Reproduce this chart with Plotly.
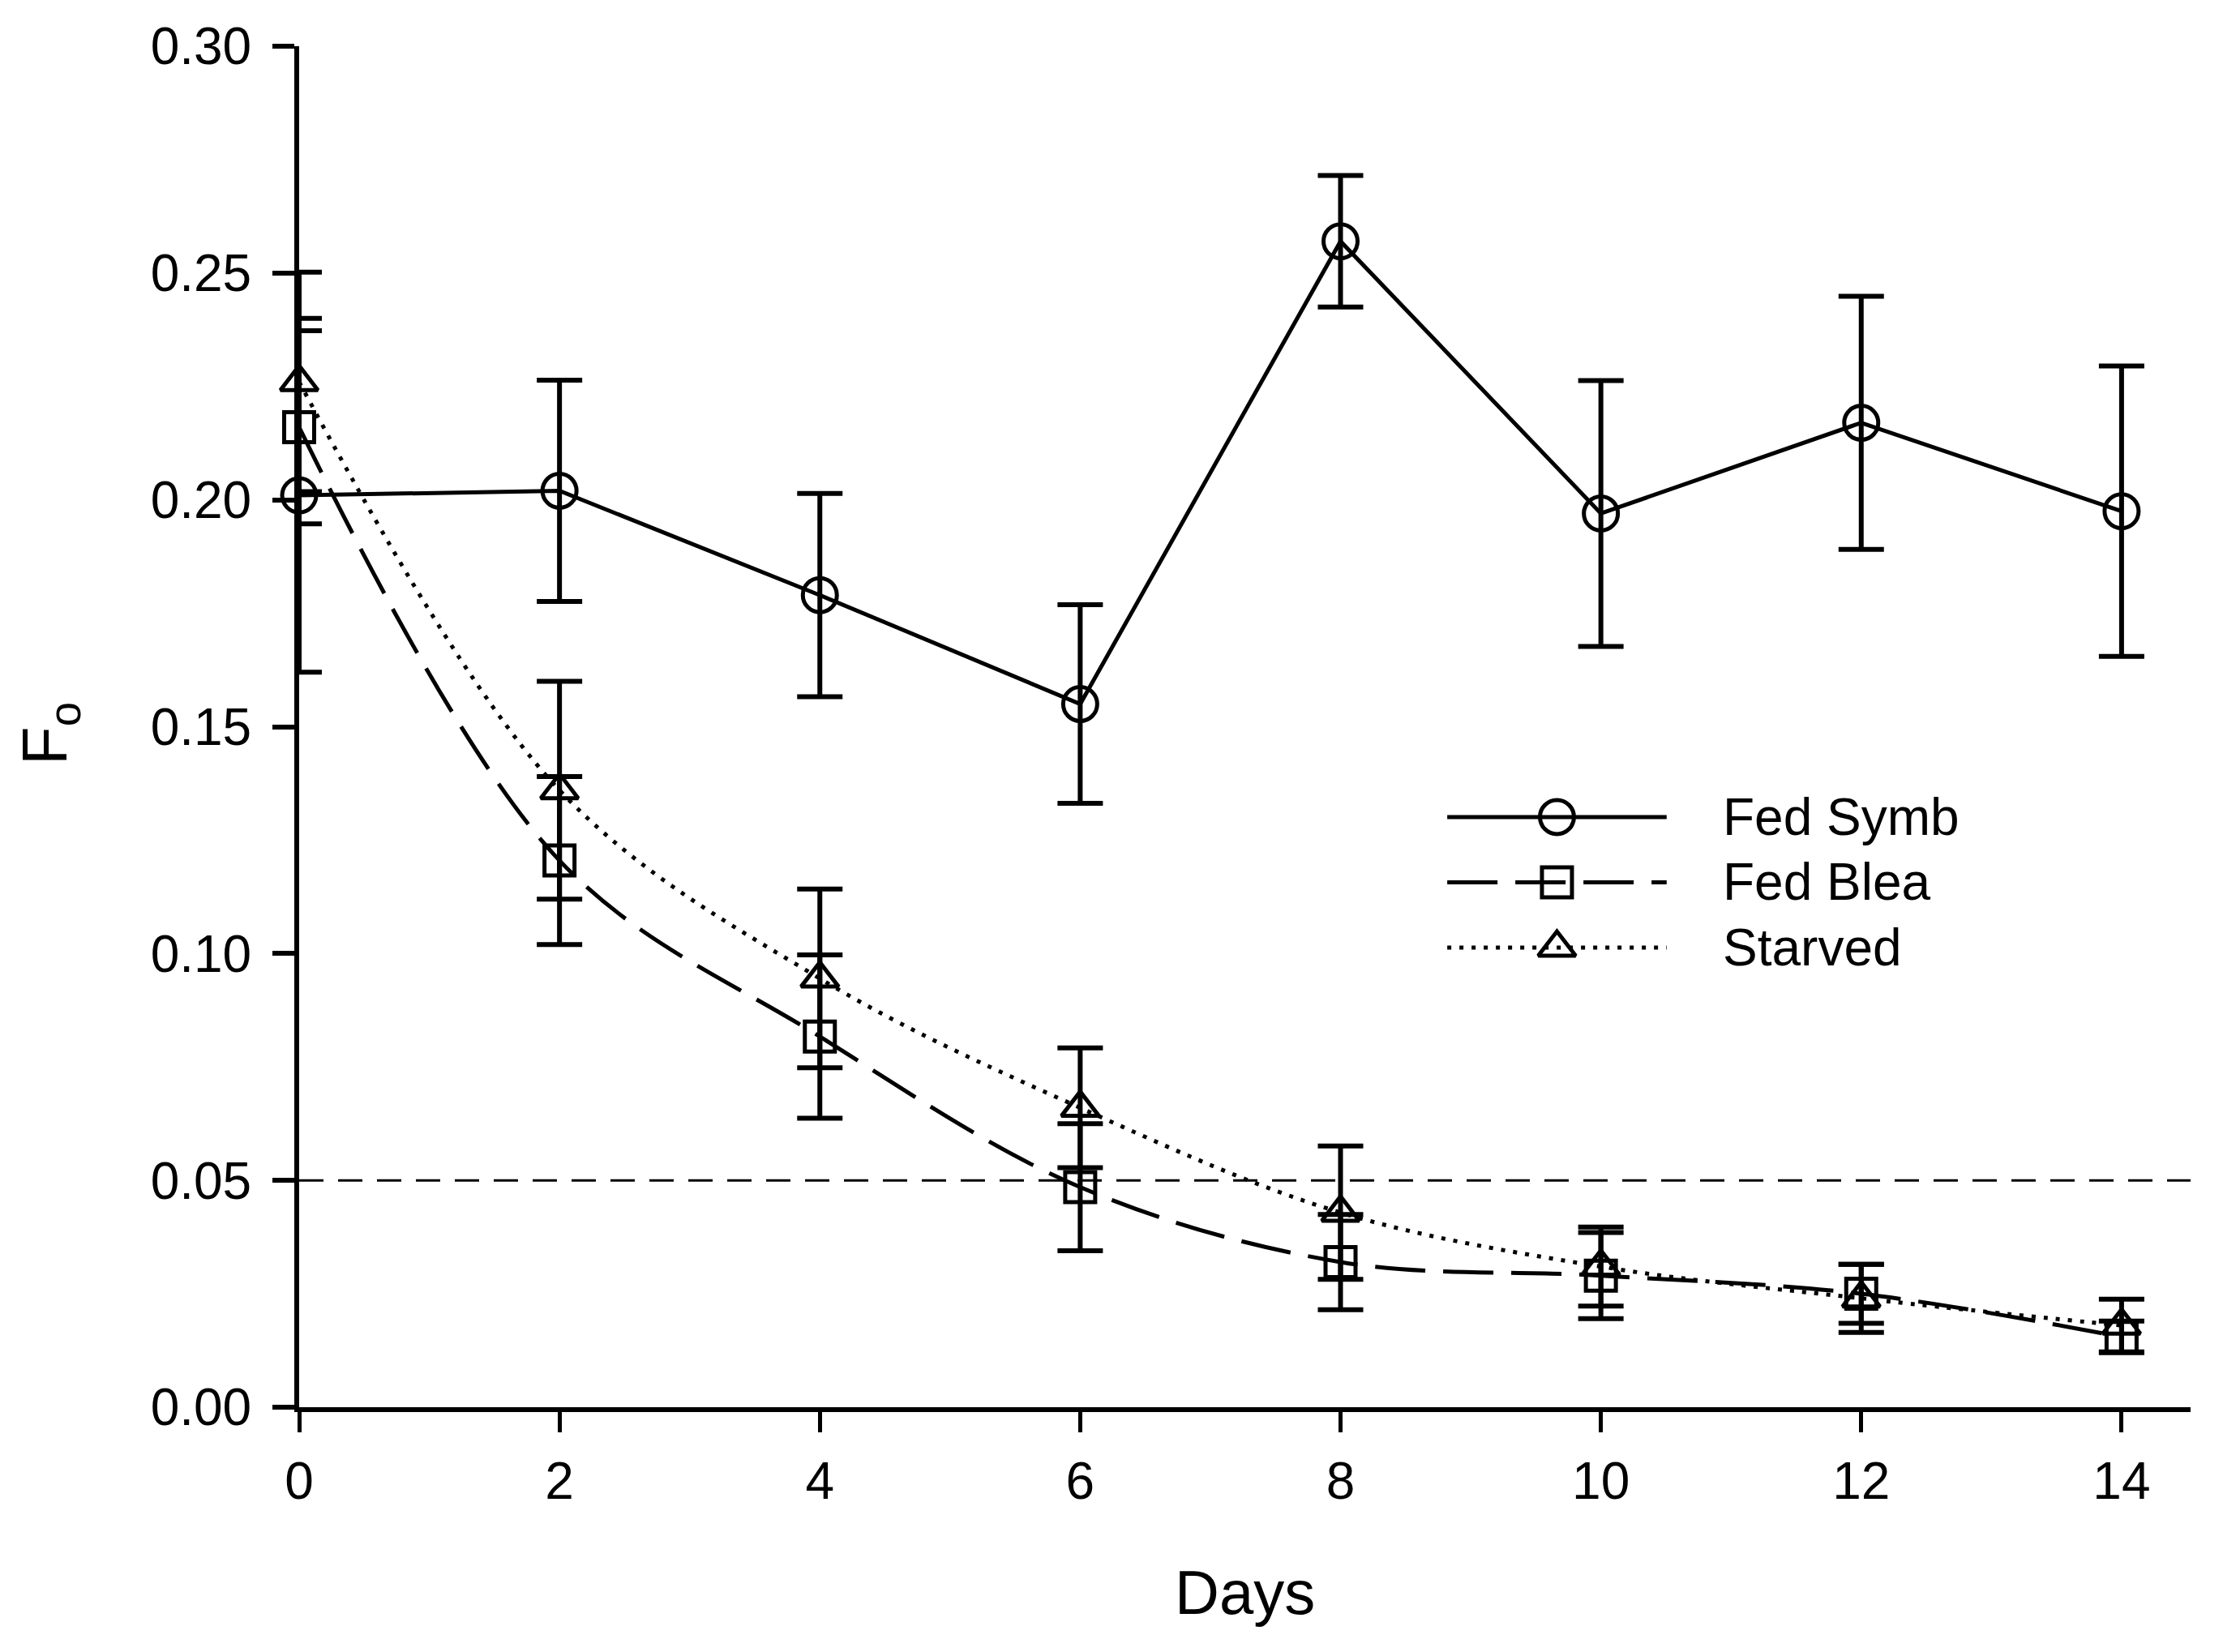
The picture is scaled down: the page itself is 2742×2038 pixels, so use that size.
import plotly.graph_objects as go

# ---- data ----
days = [0, 2, 4, 6, 8, 10, 12, 14]
fed_symb = [0.201, 0.202, 0.179, 0.155, 0.257, 0.197, 0.217, 0.1975]
fed_symb_se = [0.039, 0.0244, 0.0224, 0.0219, 0.0145, 0.0293, 0.0279, 0.032]
fed_blea = [0.216, 0.1205, 0.0817, 0.0485, 0.032, 0.029, 0.025, 0.0155]
fed_blea_se = [0.0213, 0.0185, 0.018, 0.014, 0.0105, 0.0095, 0.0065, 0.0035]
starved = [0.226, 0.136, 0.0945, 0.066, 0.0429, 0.031, 0.024, 0.018]
starved_se = [0.0242, 0.024, 0.0197, 0.0132, 0.0147, 0.0087, 0.0075, 0.0058]
series_names = ["Fed Symb", "Fed Blea", "Starved"]
threshold = 0.05
x_ticks = [0, 2, 4, 6, 8, 10, 12, 14]
y_ticks = [0.00, 0.05, 0.10, 0.15, 0.20, 0.25, 0.30]
y_tick_text = ["0.00", "0.05", "0.10", "0.15", "0.20", "0.25", "0.30"]

W, H = 2742, 2038
FONT = "Liberation Sans, Arial, sans-serif"
BLACK = "#000000"

styles = [
    dict(dash="solid", symbol="circle-open", size=42, shape="linear"),
    dict(dash="62px,22px", symbol="square-open", size=37, shape="spline"),
    dict(dash="5px,10px", symbol="triangle-up-open", size=40, shape="spline"),
]
values = [fed_symb, fed_blea, starved]
errors = [fed_symb_se, fed_blea_se, starved_se]

fig = go.Figure()
for name, vals, errs, st in zip(series_names, values, errors, styles):
    fig.add_trace(go.Scatter(
        x=days, y=vals, name=name, mode="lines+markers",
        line=dict(color=BLACK, width=5, dash=st["dash"], shape=st["shape"], smoothing=1.0),
        marker=dict(symbol=st["symbol"], size=st["size"], color=BLACK,
                    line=dict(color=BLACK, width=5)),
        error_y=dict(type="data", array=errs, visible=True, color=BLACK,
                     thickness=6, width=28),
        cliponaxis=False, showlegend=False,
    ))

# manual legend (long line samples with centered markers)
leg_x0, leg_xm, leg_x1, leg_text_x = 0.607, 0.665, 0.723, 0.752
leg_rows = [0.4336, 0.3857, 0.3377]
for name, st, ry in zip(series_names, styles, leg_rows):
    fig.add_trace(go.Scatter(
        x=[leg_x0, leg_x1], y=[ry, ry], mode="lines", xaxis="x2", yaxis="y2",
        line=dict(color=BLACK, width=5, dash=st["dash"]), showlegend=False,
        hoverinfo="skip", cliponaxis=False,
    ))
    fig.add_trace(go.Scatter(
        x=[leg_xm], y=[ry], mode="markers", xaxis="x2", yaxis="y2",
        marker=dict(symbol=st["symbol"], size=st["size"], color=BLACK,
                    line=dict(color=BLACK, width=5)),
        showlegend=False, hoverinfo="skip", cliponaxis=False,
    ))
    fig.add_annotation(x=leg_text_x, y=ry, xref="paper", yref="paper",
                       text=name, showarrow=False, xanchor="left", yanchor="middle",
                       font=dict(family=FONT, size=64, color=BLACK))

# 0.05 reference line
fig.add_shape(type="line", xref="paper", yref="y", x0=0, x1=1, y0=threshold, y1=threshold,
              line=dict(color=BLACK, width=3, dash="30px,18px"), layer="below")

# axis titles
fig.add_annotation(x=0.5, y=-0.136, xref="paper", yref="paper", text="Days",
                   showarrow=False, xanchor="center", yanchor="middle",
                   font=dict(family=FONT, size=76, color=BLACK))
fig.add_annotation(x=-0.132, y=0.495, xref="paper", yref="paper", text="F<sub>o</sub>",
                   showarrow=False, xanchor="center", yanchor="middle", textangle=-90,
                   font=dict(family=FONT, size=78, color=BLACK))

fig.update_layout(
    width=W, height=H,
    margin=dict(l=369, r=40, t=57, b=302, pad=0),
    paper_bgcolor="white", plot_bgcolor="white",
    font=dict(family=FONT, color=BLACK),
    xaxis=dict(range=[0, 14.53], tickvals=x_ticks, ticktext=[str(v) for v in x_ticks],
               showgrid=False, zeroline=False, showline=True, linecolor=BLACK, linewidth=6,
               ticks="outside", ticklen=25, tickwidth=5, tickcolor=BLACK,
               tickfont=dict(family=FONT, size=64, color=BLACK), ticklabelstandoff=5),
    yaxis=dict(range=[0, 0.30], tickvals=y_ticks, ticktext=y_tick_text,
               showgrid=False, zeroline=False, showline=True, linecolor=BLACK, linewidth=6,
               ticks="outside", ticklen=27, tickwidth=6, tickcolor=BLACK,
               tickfont=dict(family=FONT, size=64, color=BLACK), ticklabelstandoff=13),
    xaxis2=dict(overlaying="x", range=[0, 1], visible=False, fixedrange=True),
    yaxis2=dict(overlaying="y", range=[0, 1], visible=False, fixedrange=True),
    showlegend=False,
)

fig.write_html("out.html", config={"displayModeBar": False},
               post_script="document.body.style.margin='0';document.body.style.overflow='hidden';")
